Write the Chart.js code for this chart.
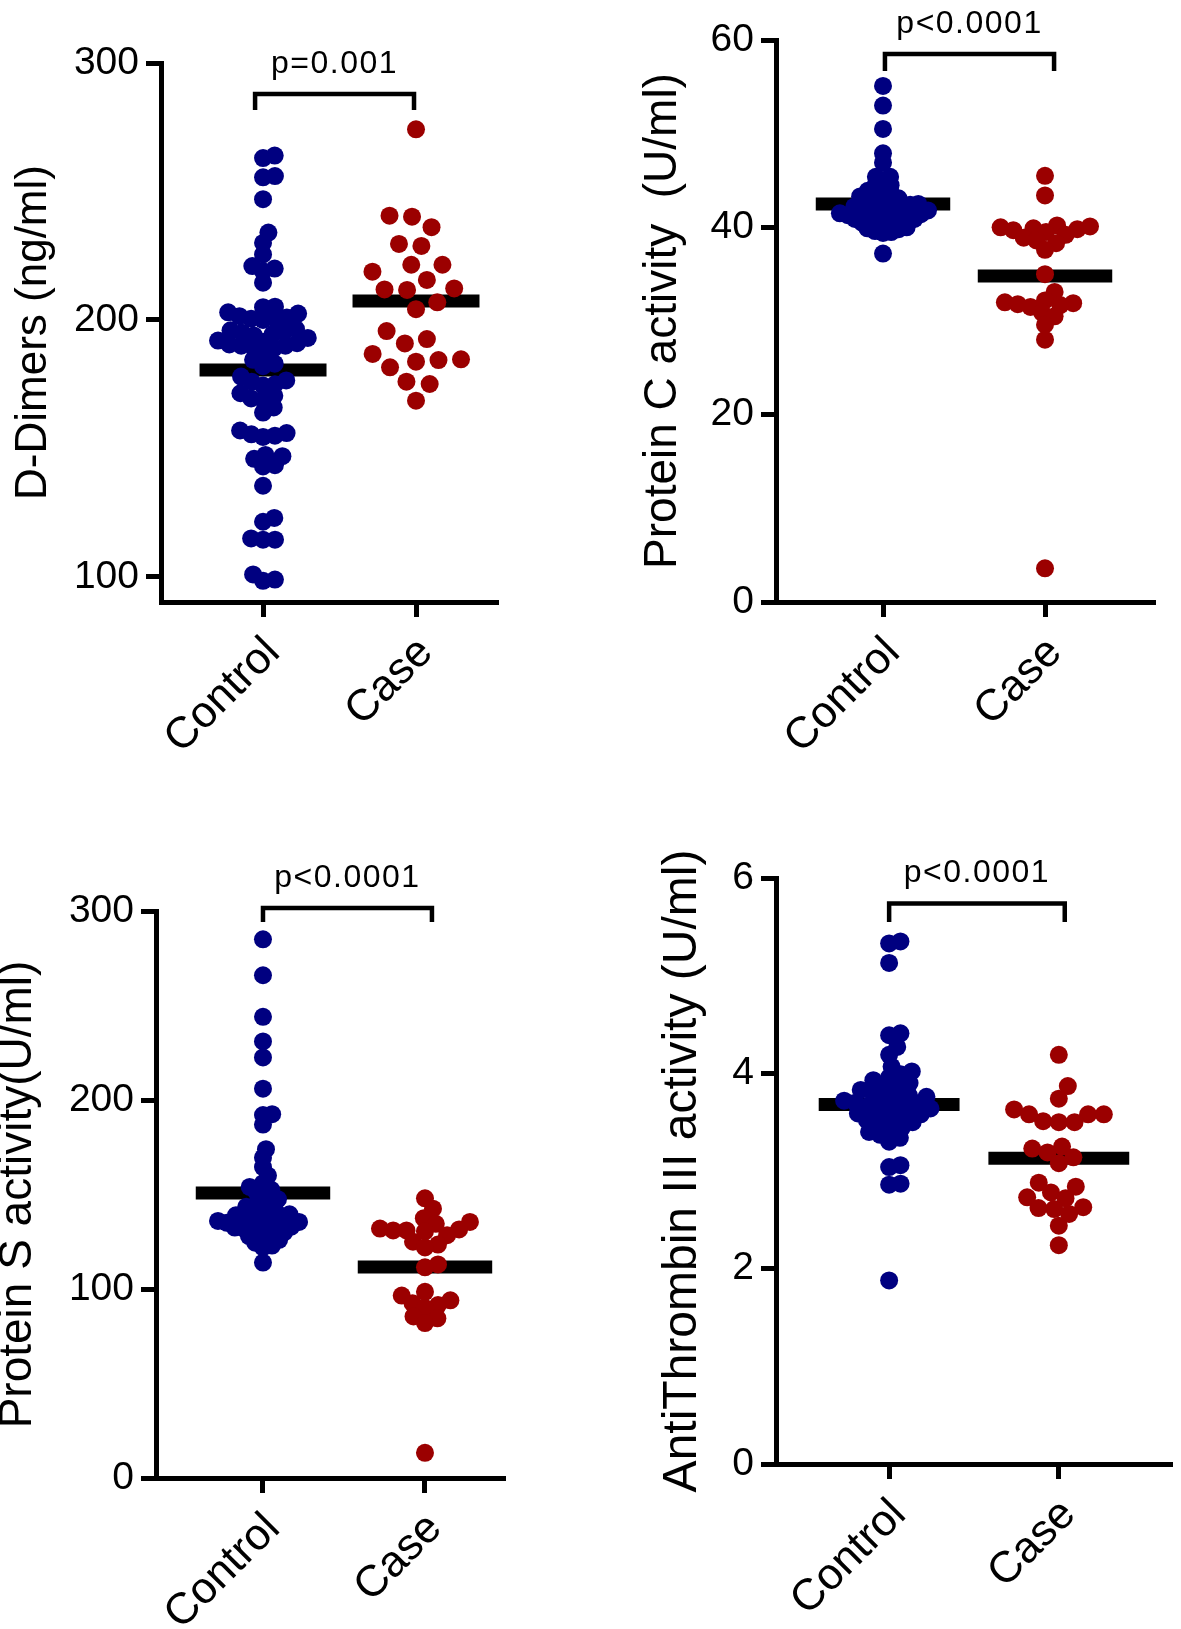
<!DOCTYPE html>
<html>
<head>
<meta charset="utf-8">
<title>Control vs Case - coagulation markers</title>
<script src="https://cdn.jsdelivr.net/npm/chart.js@4.4.1/dist/chart.umd.min.js"></script>
<style>
  html, body { margin: 0; padding: 0; background: #fff; }
  #figure { position: relative; width: 1181px; height: 1629px; overflow: hidden; background: #fff; }
  #figure canvas { position: absolute; }
</style>
</head>
<body>
<div id="figure">
  <canvas id="dDimerChart" width="590" height="800" style="left:0px;top:0px"></canvas>
  <canvas id="proteinCChart" width="591" height="800" style="left:590px;top:0px"></canvas>
  <canvas id="proteinSChart" width="590" height="829" style="left:0px;top:800px"></canvas>
  <canvas id="atChart" width="591" height="829" style="left:590px;top:800px"></canvas>
</div>
<script>
const FONT = '"Liberation Sans", Arial, Helvetica, sans-serif';
const BLUE = '#000080';
const RED = '#9b0000';
const DOT_R = 9;
const MEAN_HALF = 0.415;   // half length of the mean bar, in category units
const MAX_HALF = 45;       // max horizontal spread of a swarm, px

const groups = ['Control', 'Case'];

// D-Dimers (ng/ml)
const dDimerControl = [264, 263, 256, 255.5, 247, 234, 230, 225.5, 221, 220, 219, 214.5,
  205.2, 205, 203, 202.5, 201.5, 201, 200.5, 200, 200.5, 196.5, 196, 195.5, 195, 194.5, 194, 193,
  192, 191.5, 191, 190.5, 190, 190, 189.5, 189, 187, 184.5, 183, 182, 178, 176.5, 176, 175, 174.5,
  171.5, 170.5, 169.5, 169, 166, 164, 157, 156, 155.5, 155, 154.5, 147.5, 147, 146, 143.5, 143,
  135.5, 123, 121.5, 115, 114.5, 114.5, 101, 99, 98.5];
const dDimerCase = [274.2, 240.6, 240.2, 236.1, 229.6, 228.8, 221.5, 221.5, 218.8, 215.6, 212.3,
  211.9, 211.7, 206.9, 204.2, 195.7, 192.6, 190.9, 186.8, 184.7, 184.4, 183.8, 181.6, 176.0, 175.1, 168.6];
const dDimerMeans = [180.5, 207.4];
const dDimerTicks = [100, 200, 300];

// Protein C activity (U/ml)
const proteinCControl = [55.1, 53.0, 50.5, 47.9, 46.9, 45.4, 45.4, 45.0, 44.6, 44.5,
  44.2, 43.9, 43.8, 43.6, 43.4, 43.3, 43.1, 42.9, 42.9, 42.8, 42.6, 42.5, 42.4, 42.3, 42.2, 42.0,
  42.0, 41.9, 41.8, 41.8, 41.7, 41.6, 41.5, 41.5, 41.4, 41.3, 41.2, 41.2, 41.1, 41.0, 40.9, 40.9,
  40.8, 40.7, 40.5, 40.4, 40.3, 40.2, 40.0, 39.9, 39.8, 39.6, 39.5, 39.4, 37.2];
const proteinCCase = [45.5, 43.4, 40.2, 40.1, 40.0, 39.9, 39.8, 39.7, 39.5, 39.2, 38.9, 38.6,
  38.3, 37.6, 35.0, 33.1, 32.2, 32.0, 31.9, 31.8, 31.7, 31.5, 30.9, 30.5, 29.6, 28.0, 3.6];
const proteinCMeans = [42.5, 34.8];
const proteinCTicks = [0, 20, 40, 60];

// Protein S activity (U/ml)
const proteinSControl = [285, 266, 244, 231, 222.5, 206, 192.5, 192, 187, 174, 169.5, 164.5, 160,
  156, 154, 152.5, 151, 149, 147.5, 146, 145, 143.5, 142, 141, 140.5, 139.5, 139, 138, 137.5, 137,
  136, 136, 135.5, 135, 134.5, 134, 133.5, 133, 132.5, 132, 131, 130, 129.5, 128, 127, 126, 124.5,
  123, 122, 114];
const proteinSCase = [148, 142.5, 137.5, 135.5, 134.5, 132, 131.5, 131, 131, 130.5, 128.5, 125,
  123.5, 122, 113, 111.5, 98.5, 96.5, 94, 92.5, 91.5, 90, 85.5, 84.5, 82, 13.3];
const proteinSMeans = [150.8, 111.6];
const proteinSTicks = [0, 100, 200, 300];

// AntiThrombin III activity (U/ml)
const atControl = [5.35, 5.33, 5.13, 4.41, 4.39, 4.27, 4.19, 4.07, 4.02, 3.99, 3.96, 3.93, 3.9,
  3.88, 3.86, 3.83, 3.81, 3.79, 3.77, 3.76, 3.74, 3.72, 3.71, 3.7, 3.69, 3.67, 3.66, 3.64, 3.63,
  3.61, 3.59, 3.58, 3.56, 3.54, 3.52, 3.5, 3.48, 3.45, 3.43, 3.4, 3.37, 3.34, 3.3, 3.06, 3.04,
  2.87, 2.86, 1.88];
const atCase = [4.19, 3.87, 3.74, 3.63, 3.58, 3.58, 3.58, 3.51, 3.50, 3.50, 3.25, 3.23, 3.19,
  3.14, 3.08, 2.88, 2.84, 2.78, 2.73, 2.72, 2.63, 2.62, 2.61, 2.56, 2.44, 2.24];
const atMeans = [3.68, 3.13];
const atTicks = [0, 2, 4, 6];

// area: left = y axis box width, top = padding above plot, right = padding, bottom = x axis box height
const panels = [
  {
    canvas: 'dDimerChart', control: dDimerControl, cases: dDimerCase, means: dDimerMeans, ticks: dDimerTicks,
    yMin: 90.27, yMax: 300, xMin: 0.333, xMax: 2.536,
    title: 'D-Dimers (ng/ml)', titleSize: 44, titleOffset: 7,
    pText: 'p=0.001', bracket: { x1: 0.948, x2: 1.987, top: 287.9, end: 281.7 },
    area: { left: 161, top: 63, right: 92, bottom: 198 }
  },
  {
    canvas: 'proteinCChart', control: proteinCControl, cases: proteinCCase, means: proteinCMeans, ticks: proteinCTicks,
    yMin: 0, yMax: 60, xMin: 0.3395, xMax: 2.679,
    title: 'Protein C activity  (U/ml)', titleSize: 46, titleOffset: 46,
    pText: 'p<0.0001', bracket: { x1: 1.012, x2: 2.056, top: 58.5, end: 56.7 },
    area: { left: 186, top: 40, right: 26, bottom: 198 }
  },
  {
    canvas: 'proteinSChart', control: proteinSControl, cases: proteinSCase, means: proteinSMeans, ticks: proteinSTicks,
    yMin: 0, yMax: 300, xMin: 0.3395, xMax: 2.494,
    title: 'Protein S activity(U/ml)', titleSize: 46, titleOffset: -9,
    pText: 'p<0.0001', bracket: { x1: 1.0, x2: 2.043, top: 301.6, end: 294.2 },
    area: { left: 156, top: 111, right: 85, bottom: 151 }
  },
  {
    canvas: 'atChart', control: atControl, cases: atCase, means: atMeans, ticks: atTicks,
    yMin: 0, yMax: 6, xMin: 0.3333, xMax: 2.667,
    title: 'AntiThrombin III activity (U/ml)', titleSize: 48, titleOffset: 64,
    pText: 'p<0.0001', bracket: { x1: 1.0, x2: 2.035, top: 5.74, end: 5.55 },
    area: { left: 186, top: 78, right: 6, bottom: 165 }
  }
];

// p value written above the bracket
const pValuePlugin = {
  id: 'pValue',
  afterDatasetsDraw(chart, args, opts) {
    const { ctx, scales: { x, y } } = chart;
    const cx = (x.getPixelForValue(opts.x1) + x.getPixelForValue(opts.x2)) / 2;
    const top = y.getPixelForValue(opts.top);
    ctx.save();
    ctx.font = '32px ' + FONT;
    if ('letterSpacing' in ctx) ctx.letterSpacing = '1.5px';
    ctx.fillStyle = '#000';
    ctx.textAlign = 'center';
    ctx.textBaseline = 'alphabetic';
    ctx.fillText(opts.text, cx, top - 21);
    ctx.restore();
  }
};

// simple beeswarm: each dot goes to the free spot nearest the centre line
function swarm(values, toPx, d, maxHalf) {
  const order = values.map((v, i) => i).sort((a, b) => values[a] - values[b]);
  const placed = [];
  const offs = new Array(values.length).fill(0);
  for (const i of order) {
    const py = toPx(values[i]);
    const near = placed.filter(p => Math.abs(p.y - py) < d);
    const cands = [0];
    near.forEach(p => {
      const dx = Math.sqrt(d * d - (p.y - py) ** 2);
      cands.push(p.x - dx, p.x + dx);
    });
    cands.sort((a, b) => Math.abs(a) - Math.abs(b) || b - a);
    const ok = cands.find(c => Math.abs(c) <= maxHalf + 0.01 &&
      near.every(p => Math.hypot(p.x - c, p.y - py) >= d - 0.01));
    if (ok === undefined) return null;
    placed.push({ x: ok, y: py });
    offs[i] = ok;
  }
  return offs;
}

// shrink the spacing until the group fits in its column, then use the full column width
function fitSwarm(values, toPx, maxHalf) {
  for (let d = 21; d > 3; d -= 0.5) {
    const offs = swarm(values, toPx, d, maxHalf);
    if (offs) {
      const widest = Math.max(...offs.map(Math.abs));
      const k = widest > 0 ? maxHalf / widest : 1;
      return offs.map(o => o * k);
    }
  }
  return values.map(() => 0);
}

function buildPanel(p) {
  const canvas = document.getElementById(p.canvas);
  const dots = (vals, g) => vals.map(v => ({ x: g + 1, y: v }));
  const meanBar = g => [{ x: g + 1 - MEAN_HALF, y: p.means[g] }, { x: g + 1 + MEAN_HALF, y: p.means[g] }];
  const b = p.bracket;
  const axisGrid = { display: true, drawOnChartArea: false, drawTicks: true, tickLength: 15, tickWidth: 5, tickColor: '#000' };
  const axisBorder = { display: true, color: '#000', width: 5 };

  const chart = new Chart(canvas, {
    type: 'scatter',
    data: {
      datasets: [
        { data: dots(p.control, 0), pointRadius: DOT_R, pointBackgroundColor: BLUE, pointBorderWidth: 0, order: 0, clip: false },
        { data: dots(p.cases, 1), pointRadius: DOT_R, pointBackgroundColor: RED, pointBorderWidth: 0, order: 0, clip: false },
        { data: meanBar(0), showLine: true, borderColor: '#000', borderWidth: 13, borderCapStyle: 'butt', pointRadius: 0, order: 1 },
        { data: meanBar(1), showLine: true, borderColor: '#000', borderWidth: 13, borderCapStyle: 'butt', pointRadius: 0, order: 1 },
        {
          data: [{ x: b.x1, y: b.end }, { x: b.x1, y: b.top }, { x: b.x2, y: b.top }, { x: b.x2, y: b.end }],
          showLine: true, borderColor: '#000', borderWidth: 4.5, borderJoinStyle: 'miter', borderCapStyle: 'butt',
          pointRadius: 0, clip: false, order: 1
        }
      ]
    },
    options: {
      responsive: false,
      animation: false,
      events: [],
      layout: { padding: { left: 0, top: p.area.top, right: p.area.right, bottom: 0 } },
      plugins: {
        legend: { display: false },
        tooltip: { enabled: false },
        pValue: { text: p.pText, x1: b.x1, x2: b.x2, top: b.top }
      },
      scales: {
        x: {
          type: 'linear', min: p.xMin, max: p.xMax,
          afterBuildTicks: s => { s.ticks = [{ value: 1 }, { value: 2 }]; },
          afterFit: s => { s.height = p.area.bottom; },
          border: axisBorder,
          grid: axisGrid,
          ticks: {
            color: '#000', font: { family: FONT, size: 44 },
            minRotation: 45, maxRotation: 45, padding: 10, labelOffset: 10, autoSkip: false,
            callback: v => groups[v - 1]
          }
        },
        y: {
          type: 'linear', min: p.yMin, max: p.yMax,
          afterBuildTicks: s => { s.ticks = p.ticks.map(v => ({ value: v })); },
          afterFit: s => { s.width = p.area.left; },
          border: axisBorder,
          grid: axisGrid,
          ticks: { color: '#000', font: { family: FONT, size: 39 }, padding: 7 },
          title: {
            display: true, text: p.title, color: '#000',
            font: { family: FONT, size: p.titleSize },
            padding: { top: p.titleOffset, bottom: 0 }
          }
        }
      }
    },
    plugins: [pValuePlugin]
  });

  // spread the dots once the scales are known
  const { x, y } = chart.scales;
  const pxPerUnit = x.getPixelForValue(2) - x.getPixelForValue(1);
  const toPx = v => y.getPixelForValue(v);
  [p.control, p.cases].forEach((vals, g) => {
    const offs = fitSwarm(vals, toPx, MAX_HALF);
    chart.data.datasets[g].data = vals.map((v, i) => ({ x: g + 1 + offs[i] / pxPerUnit, y: v }));
  });
  chart.update('none');
  return chart;
}

panels.forEach(buildPanel);
</script>
</body>
</html>
